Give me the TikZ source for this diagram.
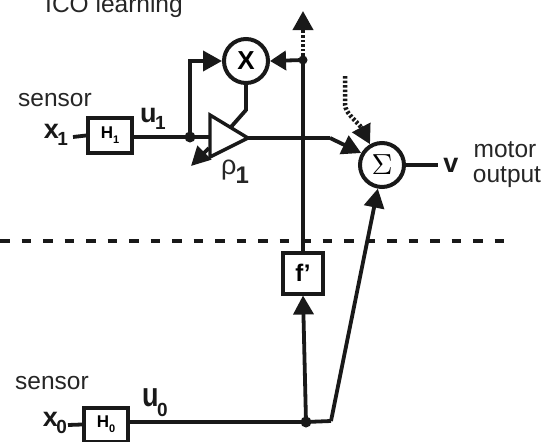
\documentclass[tikz,border=0pt]{standalone}
\usepackage{fontspec}
\setmainfont{Liberation Sans}
\usetikzlibrary{arrows.meta}
\tikzset{
  x=1pt,y=-1pt,
  wire/.style={line width=3.8pt,black!90},
  arr/.style={wire,-{Triangle[length=19pt,width=20pt]}},
  smallarr/.style={wire,-{Triangle[length=16pt,width=19pt]}},
  dotwire/.style={line width=4.5pt,black!90,dash pattern=on 2.5pt off 2pt},
  blockbox/.style={draw=black!90,line width=4pt,fill=white,inner sep=0pt,font=\fontsize{17}{17}\bfseries},
  opcircle/.style={circle,draw=black!90,line width=4pt,fill=white,inner sep=0pt,minimum size=44pt},
  junction/.style={circle,fill=black!90,inner sep=0pt,minimum size=11pt},
  lab/.style={inner sep=0pt,font=\fontsize{24.5}{24.5}\selectfont,text=black!85},
  sym/.style={inner sep=0pt,font=\fontsize{27}{27}\bfseries,text=black!90},
}
\newcommand{\subs}[3][-7pt]{#2\kern-1.5pt\raisebox{#1}{\fontsize{19}{19}\selectfont #3}}
\begin{document}
\begin{tikzpicture}
\useasboundingbox (0,0) rectangle (552,442);
\fill[white] (0,0) rectangle (552,442);
\clip (0,0) rectangle (552,442);

% texts
\node[lab] (ico) at (114,6) {ICO learning};
\node[lab] (s1) at (55,100) {sensor};
\node[lab] (s0) at (52,383) {sensor};
\node[lab] (mot) at (505,150) {motor};
\node[lab] (out) at (507,177) {output};
\node[sym] (x1) at (56,135) {\subs{x}{1}};
\node[sym] (x0) at (55,423) {\subs{x}{0}};
\node[sym] (u1) at (153,119) {\subs{u}{1}};
\node[sym] (u0) at (155,403) {\subs[-10pt]{\scalebox{1}[1.25]{u}}{0}};
\node[inner sep=0pt,font=\fontsize{27}{27}\selectfont,text=black!85] (rho) at (235,172) {ρ\kern-1pt\raisebox{-9pt}{\fontsize{24}{24}\bfseries 1}};
\node[sym] (v) at (451,165) {v};

% blocks
\node[blockbox,minimum width=44pt,minimum height=35pt] (h1) at (110,135.5) {H\raisebox{-5pt}{\fontsize{11}{11}\selectfont 1}};
\node[blockbox,minimum width=44pt,minimum height=34pt] (h0) at (106,424.5) {H\raisebox{-5pt}{\fontsize{11}{11}\selectfont 0}};
\node[blockbox,minimum width=40pt,minimum height=41pt,font=\fontsize{24}{24}\bfseries] (f) at (303,273) {f'};
\node[opcircle,font=\fontsize{26}{26}\bfseries] (mul) at (246,61) {X};
\node[opcircle] (sum) at (382,165) {\scalebox{2.9}{$\Sigma$}};

\node[junction] (j1) at (190,137) {};
\node[junction,minimum size=9pt] (j2) at (303,60) {};
\node[junction] (j3) at (306,422) {};

\coordinate (tA) at (210,115);
\coordinate (tB) at (248,138);
\coordinate (tC) at (210,157);
\coordinate (x1e) at (73,137);
\coordinate (x0e) at (68,425);
\coordinate (vE) at (438,165);
\coordinate (upE) at (303,11);
\coordinate (upB) at (303,31);
\coordinate (k1) at (190,61);
\coordinate (k2) at (246,110);
\coordinate (k3) at (231,127);
\coordinate (k4) at (330,138);
\coordinate (k5) at (331,421);
\coordinate (gainS) at (209,148);
\coordinate (gainE) at (191,166);
\coordinate (dotS) at (345,76);
\coordinate (dotM) at (345,105);
\coordinate (dotE) at (361,127);

% wires
\draw[wire] (x1e) -- (h1.west);
\draw[wire] (x0e) -- (h0.west);
\draw[wire] (h1.east |- j1) -- (tA |- j1);
\draw[arr] (j1.center) -- (k1) -- (mul.west);
\draw[smallarr] (j2.center) -- (mul.east);
\draw[wire] (mul.south) -- (k2) -- (k3);
\draw[wire] (tB) -- (k4);
\draw[arr] (k4) -- (sum.150);
\draw[wire] (sum.east) -- (vE);
\draw[wire] (f.north) -- (j2.center);
\draw[arr] (j3.center) -- (f.south);
\draw[wire] (h0.east |- j3) -- (j3.center) -- (k5);
\draw[arr] (k5) -- (sum.-100);
\draw[dotwire] (j2.center) -- (upB);
\draw[arr] (upB) -- (upE);
\draw[dotwire] (dotS) -- (dotM) .. controls (346,113) and (353,118) .. (dotE);
\draw[arr] (dotE) -- (sum.120);

% amplifier
\draw[line width=3.4pt,black!90,fill=white,line join=miter] (tA) -- (tB) -- (tC) -- cycle;
\draw[wire,-{Triangle[length=19pt,width=19pt]}] (gainS) -- (gainE);

\draw[line width=3.4pt,black!90,dash pattern=on 9.5pt off 12pt] (0,241) -- (507,241);
\end{tikzpicture}
\end{document}
